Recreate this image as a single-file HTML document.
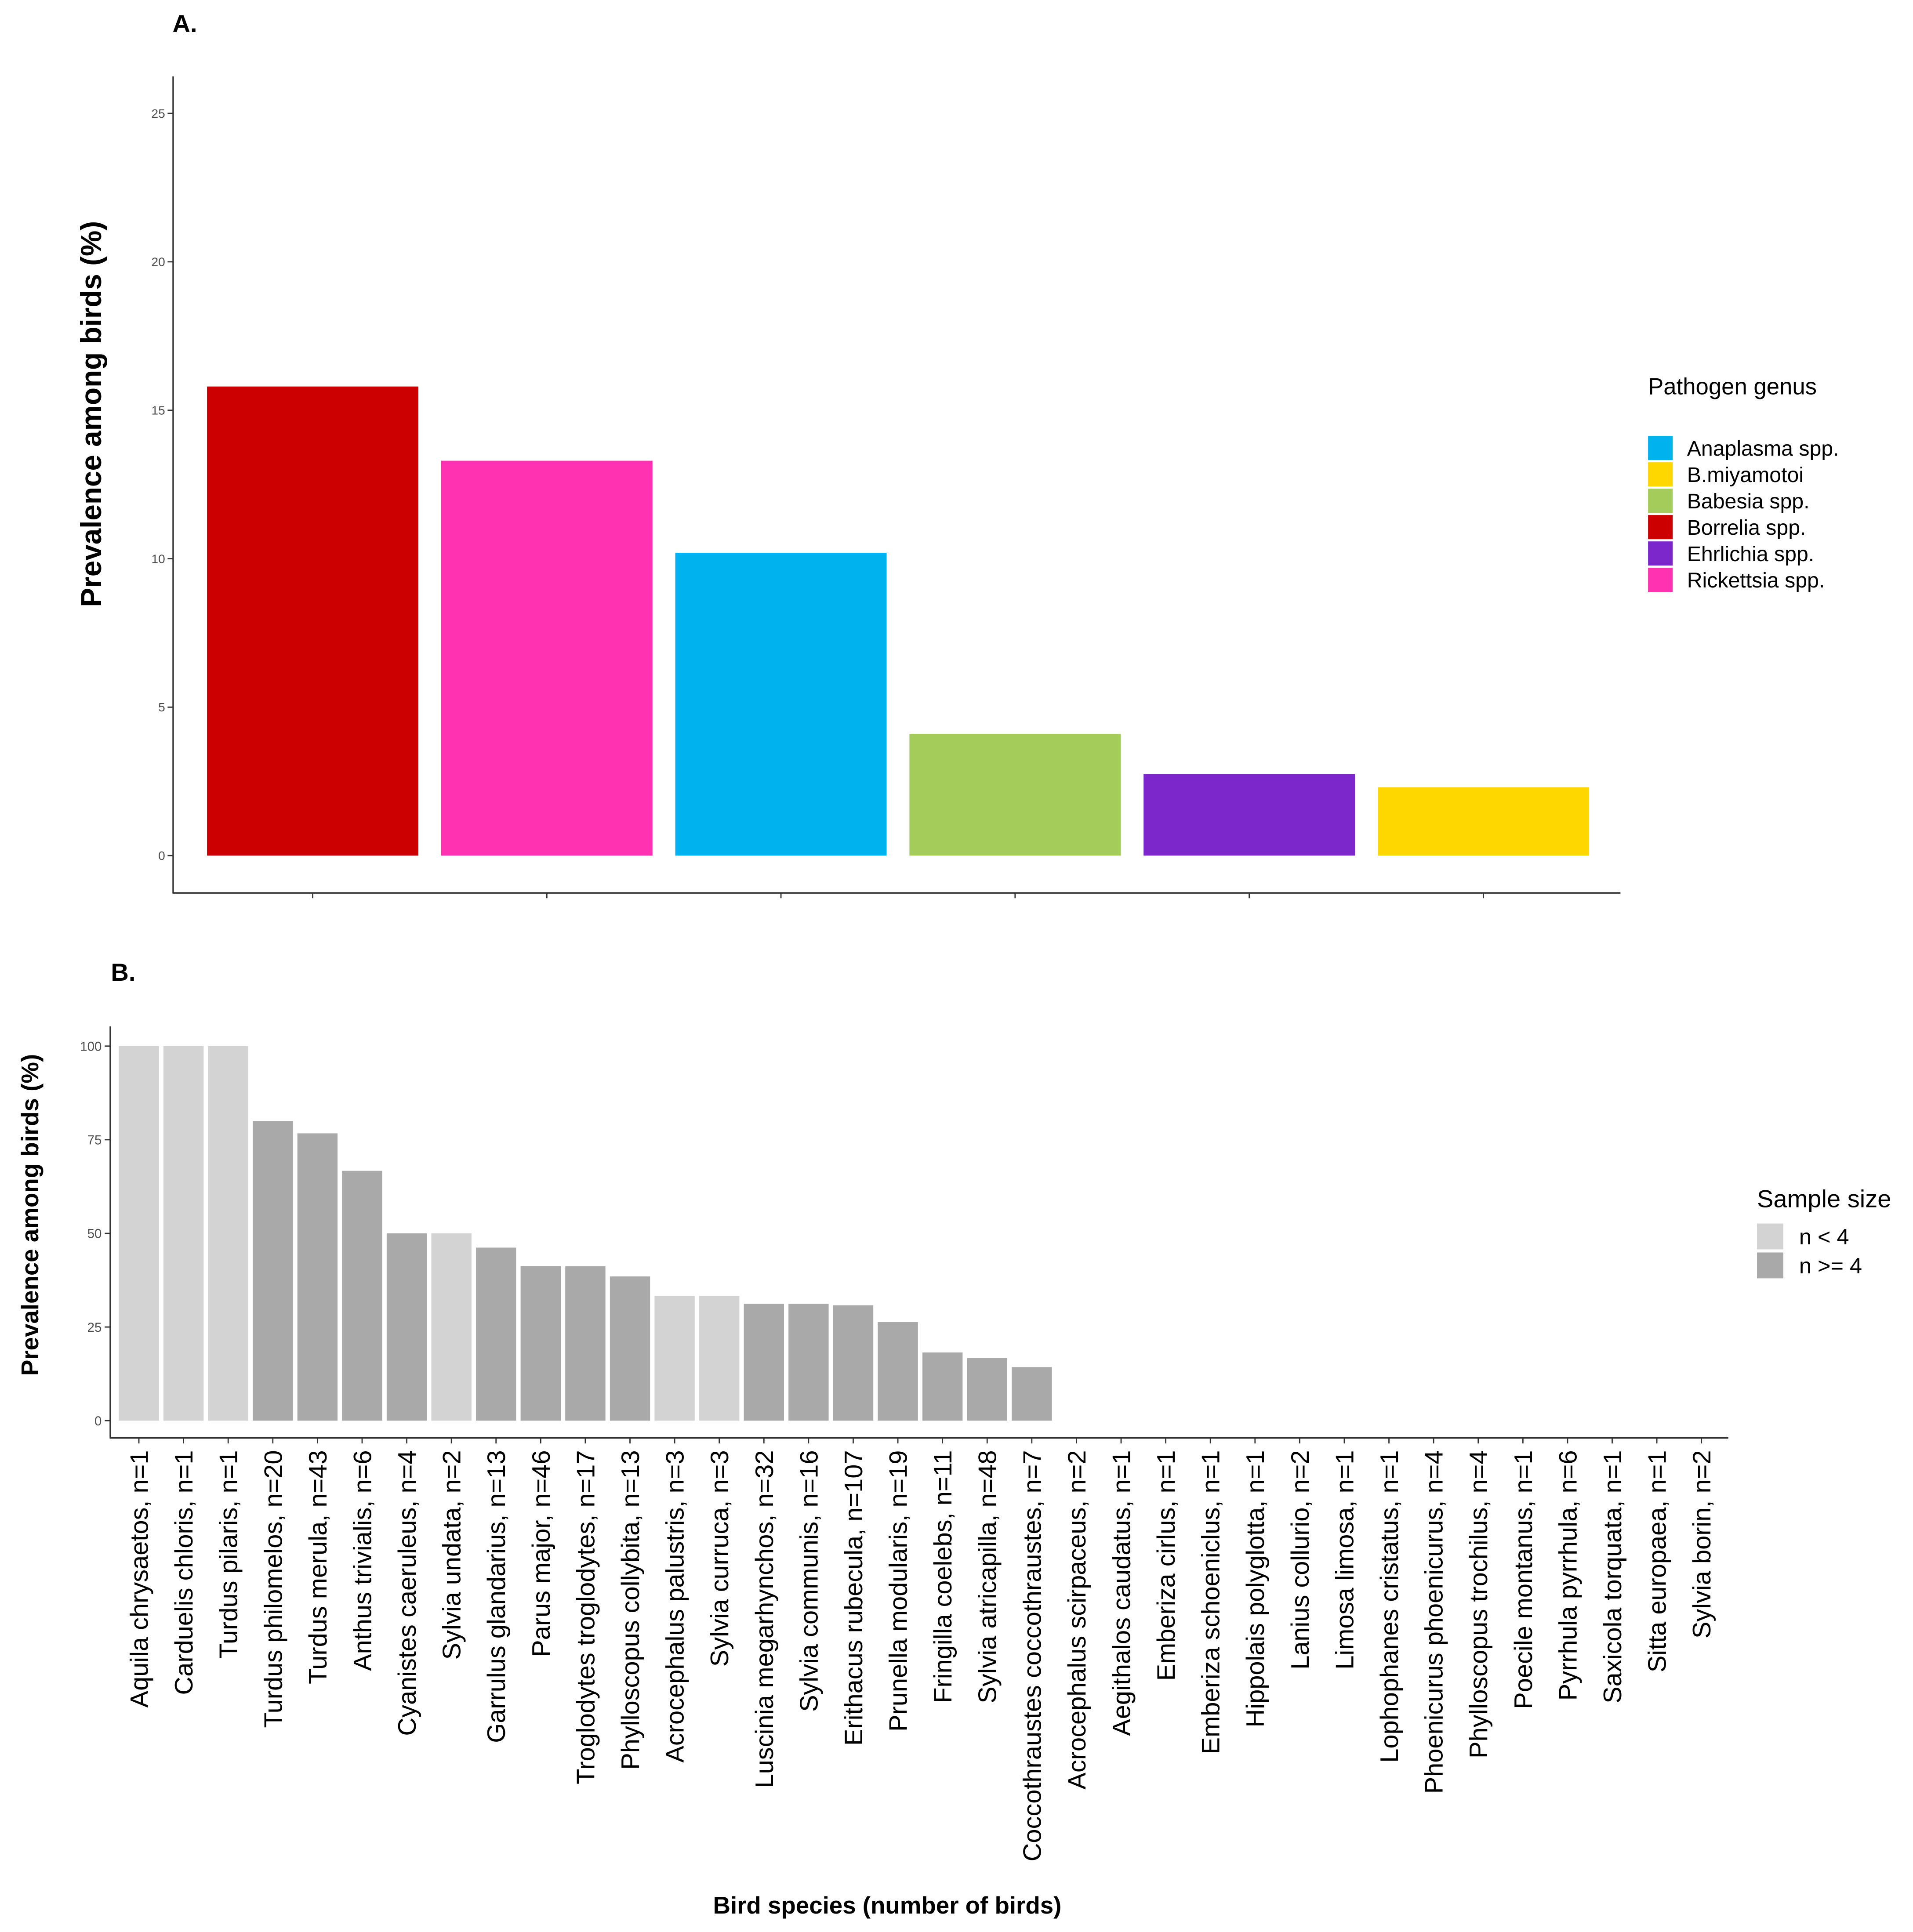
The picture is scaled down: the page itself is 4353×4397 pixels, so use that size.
<!DOCTYPE html>
<html><head><meta charset="utf-8"><style>
html,body{margin:0;padding:0;background:#fff;}
svg{display:block;}
text{font-family:"Liberation Sans",sans-serif;}
</style></head><body>
<svg id="fig" xmlns="http://www.w3.org/2000/svg" width="4353" height="4397" viewBox="0 0 1552.4 1568" preserveAspectRatio="none">
<rect x="0" y="0" width="1552.4" height="1568" fill="#fff"/>
<g id="panelA">
  <text x="140" y="26" font-size="20" font-weight="bold">A.</text>
  <text transform="translate(82,336) rotate(-90)" text-anchor="middle" font-size="23.4" font-weight="bold">Prevalence among birds (%)</text>
  <line x1="140.5" y1="62" x2="140.5" y2="724.7" stroke="#333" stroke-width="1.2"/>
  <line x1="140" y1="724.7" x2="1315" y2="724.7" stroke="#333" stroke-width="1.2"/>
  <text x="1337.4" y="320" font-size="18.8">Pathogen genus</text>
</g>
<g id="panelB">
  <text x="90" y="796" font-size="20" font-weight="bold">B.</text>
  <text transform="translate(31,986) rotate(-90)" text-anchor="middle" font-size="19.5" font-weight="bold">Prevalence among birds (%)</text>
  <line x1="89.5" y1="833" x2="89.5" y2="1167" stroke="#333" stroke-width="1.2"/>
  <line x1="89" y1="1167" x2="1402.5" y2="1167" stroke="#333" stroke-width="1.2"/>
  <text x="720" y="1553" text-anchor="middle" font-size="19.5" font-weight="bold">Bird species (number of birds)</text>
  <text x="1425.8" y="979.7" font-size="20">Sample size</text>
</g>
</svg>
<script>
// Panel A data
const genusNames = ["Borrelia spp.","Rickettsia spp.","Anaplasma spp.","Babesia spp.","Ehrlichia spp.","B.miyamotoi"];
const genusValues = [15.8,13.3,10.2,4.1,2.75,2.3];
const genusColors = ["#CC0000","#FF33B1","#00B2EE","#A3CC5B","#7B27CC","#FFD700"];
const legendAOrder = ["Anaplasma spp.","B.miyamotoi","Babesia spp.","Borrelia spp.","Ehrlichia spp.","Rickettsia spp."];
const tickA = [0,5,10,15,20,25];
// Panel B data
const species = ["Aquila chrysaetos, n=1","Carduelis chloris, n=1","Turdus pilaris, n=1","Turdus philomelos, n=20","Turdus merula, n=43","Anthus trivialis, n=6","Cyanistes caeruleus, n=4","Sylvia undata, n=2","Garrulus glandarius, n=13","Parus major, n=46","Troglodytes troglodytes, n=17","Phylloscopus collybita, n=13","Acrocephalus palustris, n=3","Sylvia curruca, n=3","Luscinia megarhynchos, n=32","Sylvia communis, n=16","Erithacus rubecula, n=107","Prunella modularis, n=19","Fringilla coelebs, n=11","Sylvia atricapilla, n=48","Coccothraustes coccothraustes, n=7","Acrocephalus scirpaceus, n=2","Aegithalos caudatus, n=1","Emberiza cirlus, n=1","Emberiza schoeniclus, n=1","Hippolais polyglotta, n=1","Lanius collurio, n=2","Limosa limosa, n=1","Lophophanes cristatus, n=1","Phoenicurus phoenicurus, n=4","Phylloscopus trochilus, n=4","Poecile montanus, n=1","Pyrrhula pyrrhula, n=6","Saxicola torquata, n=1","Sitta europaea, n=1","Sylvia borin, n=2"];
const prevalence = [100,100,100,80,76.7,66.7,50,50,46.2,41.3,41.2,38.5,33.3,33.3,31.2,31.2,30.8,26.3,18.2,16.7,14.3,0,0,0,0,0,0,0,0,0,0,0,0,0,0,0];
const sampleN = [1,1,1,20,43,6,4,2,13,46,17,13,3,3,32,16,107,19,11,48,7,2,1,1,1,1,2,1,1,4,4,1,6,1,1,2];
const tickB = [0,25,50,75,100];
const sizeGroups = ["n < 4","n >= 4"];

const NS="http://www.w3.org/2000/svg";
function mk(tag,attrs,parent){const e=document.createElementNS(NS,tag);for(const k in attrs)e.setAttribute(k,attrs[k]);parent.appendChild(e);return e;}
const gA=document.getElementById('panelA'), gB=document.getElementById('panelB');

const yA=v=>694.4-(v/25)*(694.4-92);
const slotA=190;
tickA.forEach(t=>{
  const l=mk('line',{x1:136,x2:140.5,y1:yA(t),y2:yA(t),stroke:'#333','stroke-width':1},gA);
  
  
  const tx=mk('text',{x:134,y:yA(t)+3.5,'text-anchor':'end','font-size':10,fill:'#4d4d4d'},gA);
  tx.textContent=t;
  
  
});
genusValues.forEach((v,i)=>{
  const left=168+i*slotA, w=171.5;
  const r=mk('rect',{x:left,y:yA(v),width:w,height:yA(0)-yA(v),fill:genusColors[i]},gA);
  
  
  const tk=mk('line',{x1:left+w/2,x2:left+w/2,y1:724.7,y2:729,stroke:'#333','stroke-width':1},gA);
  
  
});
legendAOrder.forEach((n,i)=>{
  const ci=genusNames.indexOf(n);
  const r=mk('rect',{x:1337.4,y:353.8+i*21.4,width:20,height:19.6,fill:genusColors[ci]},gA);
  
  
  const t=mk('text',{x:1369,y:353.8+i*21.4+16,'font-size':17.2},gA);
  t.textContent=n;
  
  
});

const yB=v=>1153-(v/100)*(1153-849);
const stepB=36.23;
const xB=i=>112.7+i*stepB;
const light="#D3D3D3", dark="#A9A9A9";
tickB.forEach(t=>{
  const l=mk('line',{x1:85,x2:89.5,y1:yB(t),y2:yB(t),stroke:'#333','stroke-width':1},gB);
  
  
  const tx=mk('text',{x:82.5,y:yB(t)+3.8,'text-anchor':'end','font-size':10.5,fill:'#4d4d4d'},gB);
  tx.textContent=t;
  
  
});
species.forEach((s,i)=>{
  const c=xB(i), w=stepB*0.9, v=prevalence[i];
  if(v>0){
    const r=mk('rect',{x:c-w/2,y:yB(v),width:w,height:yB(0)-yB(v),fill:sampleN[i]<4?light:dark},gB);
    
    
  }
  const tk=mk('line',{x1:c,x2:c,y1:1167,y2:1171.5,stroke:'#333','stroke-width':1},gB);
  
  
  const t=mk('text',{transform:'translate('+(c+7.3)+',1177) rotate(-90)','text-anchor':'end','font-size':20.6},gB);
  t.textContent=s;
  
  
});
sizeGroups.forEach((g,i)=>{
  const r=mk('rect',{x:1425.8,y:993+i*23.5,width:21.4,height:21,fill:i===0?light:dark},gB);
  
  
  const t=mk('text',{x:1460,y:993+i*23.5+17,'font-size':18},gB);
  t.textContent=g;
  
  
});
</script>
</body></html>
